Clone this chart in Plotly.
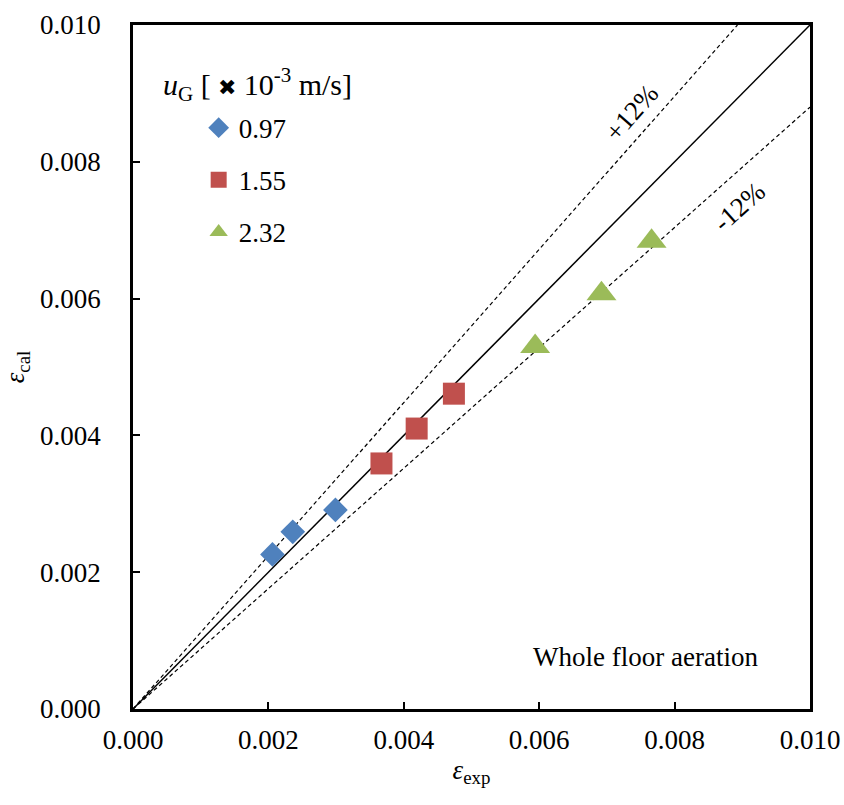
import plotly.graph_objects as go

# Gas holdup: calculated vs. experimental, grouped by superficial gas velocity
ug_labels = ["0.97", "1.55", "2.32"]
eps_exp = [
    [0.00206, 0.00236, 0.00299],
    [0.00367, 0.00419, 0.00474],
    [0.00594, 0.00692, 0.00766],
]
eps_cal = [
    [0.00226, 0.00259, 0.00291],
    [0.00359, 0.00410, 0.00461],
    [0.00530, 0.00607, 0.00684],
]
colors = ["#4F81BD", "#C0504D", "#9BBB59"]
symbols = ["diamond", "square", "triangle-up"]
sizes = [19, 22, 26]

# parity line and +/-12 % bands
axis_max = 0.010
ratios = [1.0, 1.12, 0.88]
dashes = ["solid", "4px,3px", "4px,3px"]
widths = [1.5, 1.2, 1.2]

FONT = "Times New Roman, Liberation Serif, serif"
fig = go.Figure()

for r, d, w in zip(ratios, dashes, widths):
    x_end = min(axis_max, axis_max / r)
    fig.add_trace(go.Scatter(
        x=[0, x_end], y=[0, r * x_end], mode="lines",
        line=dict(color="black", width=w, dash=d),
        showlegend=False, hoverinfo="skip"))

for i in range(3):
    fig.add_trace(go.Scatter(
        x=eps_exp[i], y=eps_cal[i], mode="markers", name=ug_labels[i],
        legendgroup=ug_labels[i],
        marker=dict(symbol=symbols[i], size=sizes[i], color=colors[i],
                    line=dict(width=0))))

axis_common = dict(
    range=[0, axis_max], dtick=0.002, tickformat=".3f",
    showgrid=False, zeroline=False, automargin=False,
    showline=True, linecolor="black", linewidth=2.5, mirror=True,
    ticks="inside", ticklen=7, tickwidth=1.5, tickcolor="black",
    tickfont=dict(family=FONT, size=27, color="black"),
)

fig.update_xaxes(**axis_common, ticklabelstandoff=5,
                 title=dict(text="<i>ε</i><sub>exp</sub>", standoff=6,
                            font=dict(family=FONT, size=27, color="black")))
fig.update_yaxes(**axis_common, ticklabelstandoff=24,
                 title=dict(text="<i>ε</i><sub>cal</sub>", standoff=12,
                            font=dict(family=FONT, size=27, color="black")))

fig.add_annotation(x=0.00736, y=0.00872, xref="x", yref="y",
                   text="+12%", showarrow=False, textangle=-48.5,
                   font=dict(family=FONT, size=27, color="black"))
fig.add_annotation(x=0.00895, y=0.00734, xref="x", yref="y",
                   text="-12%", showarrow=False, textangle=-41.6,
                   font=dict(family=FONT, size=27, color="black"))
fig.add_annotation(x=0.926, y=0.076, xref="paper", yref="paper",
                   xanchor="right", yanchor="middle",
                   text="Whole floor aeration", showarrow=False,
                   font=dict(family=FONT, size=27, color="black"))
fig.add_annotation(x=0.042, y=0.913, xref="paper", yref="paper",
                   xanchor="left", yanchor="middle",
                   text="<i>u</i><sub>G</sub> [ <span style='font-size:22px'>✖</span> 10<sup>-3</sup> m/s]",
                   showarrow=False,
                   font=dict(family=FONT, size=30, color="black"))

fig.update_layout(
    width=844, height=805,
    margin=dict(l=133, r=34, t=25, b=96),
    paper_bgcolor="white", plot_bgcolor="white",
    font=dict(family=FONT, size=27, color="black"),
    legend=dict(x=0.097, y=0.885, xanchor="left", yanchor="top",
                bgcolor="rgba(0,0,0,0)", tracegroupgap=14,
                font=dict(family=FONT, size=27, color="black")),
)

fig.write_html("out.html")
